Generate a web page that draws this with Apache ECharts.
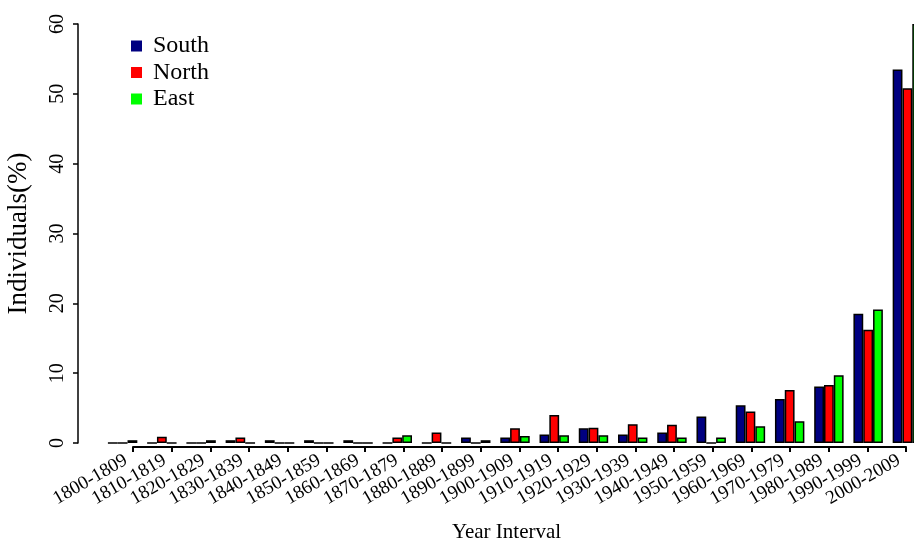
<!DOCTYPE html>
<html>
<head>
<meta charset="utf-8">
<script src="https://cdn.jsdelivr.net/npm/echarts@6/dist/echarts.min.js"></script>
<style>html,body{margin:0;padding:0;background:#fff}#c{width:914px;height:542px}</style>
</head>
<body>
<div id="c"></div>
<script>
const categories = ['1800-1809','1810-1819','1820-1829','1830-1839','1840-1849','1850-1859','1860-1869','1870-1879','1880-1889','1890-1899','1900-1909','1910-1919','1920-1929','1930-1939','1940-1949','1950-1959','1960-1969','1970-1979','1980-1989','1990-1999','2000-2009'];
const south = [0, 0, 0, 0.4, 0.4, 0.4, 0.4, 0, 0, 0.8, 0.8, 1.2, 2.1, 1.2, 1.5, 3.8, 5.4, 6.3, 8.1, 18.5, 53.5];
const north = [0, 0.9, 0, 0.8, 0, 0, 0, 0.8, 1.5, 0, 2.1, 4.0, 2.2, 2.7, 2.6, 0, 4.5, 7.6, 8.3, 16.2, 50.8];
const east  = [0.4, 0, 0.4, 0, 0, 0, 0, 1.1, 0, 0.4, 1.0, 1.1, 1.1, 0.8, 0.8, 0.8, 2.4, 3.1, 9.7, 19.1, 60];
const yTicks = [0, 10, 20, 30, 40, 50, 60];

const FONT = "'Liberation Serif','Times New Roman',serif";
const chart = echarts.init(document.getElementById('c'), null, {renderer: 'canvas'});
const barStyle = c => ({color: c, borderColor: '#000', borderWidth: 1.5});
chart.setOption({
  animation: false,
  backgroundColor: '#fff',
  grid: [
    {left: 103, top: 24, width: 824, height: 419, containLabel: false, outerBoundsMode: 'none'},
    {left: 133, top: 24, width: 773, height: 423, containLabel: false, outerBoundsMode: 'none'}
  ],
  legend: {
    orient: 'vertical', left: 126, top: 29, itemWidth: 11, itemHeight: 11, itemGap: 2.5,
    icon: 'rect',
    itemStyle: {borderWidth: 0},
    textStyle: {fontFamily: FONT, fontSize: 24, color: '#000', padding: [0,0,0,6]},
    data: ['South', 'North', 'East']
  },
  xAxis: [
    {type: 'category', gridIndex: 0, data: categories, show: false},
    {type: 'value', gridIndex: 1, min: 0, max: categories.length - 1, interval: 1,
     name: 'Year Interval', nameLocation: 'middle', nameGap: 75,
     nameTextStyle: {fontFamily: FONT, fontSize: 21, color: '#000', padding: [0, 26, 0, 0]},
     axisLine: {show: true, lineStyle: {color: '#000', width: 2}},
     axisTick: {show: true, length: 5, lineStyle: {color: '#000', width: 2}},
     splitLine: {show: false},
     axisLabel: {rotate: 30, margin: 8, fontFamily: FONT, fontSize: 19, color: '#000',
       padding: [0, 8, 0, 0], showMinLabel: true, showMaxLabel: true, hideOverlap: false,
       formatter: v => categories[v] || ''}
    }
  ],
  yAxis: [
    {type: 'value', gridIndex: 0, min: yTicks[0], max: yTicks[yTicks.length-1], interval: 10, offset: 25,
     name: 'Individuals(%)', nameLocation: 'middle', nameGap: 46, nameRotate: 90,
     nameTextStyle: {fontFamily: FONT, fontSize: 27, color: '#000'},
     axisLine: {show: true, lineStyle: {color: '#000', width: 1.5}},
     axisTick: {show: true, length: 5, lineStyle: {color: '#000', width: 1.5}},
     splitLine: {show: false},
     axisLabel: {rotate: 90, margin: 10, fontFamily: FONT, fontSize: 20, color: '#000'}
    },
    {type: 'value', gridIndex: 1, show: false, min: 0, max: 1}
  ],
  series: [
    {name: 'South', type: 'bar', xAxisIndex: 0, yAxisIndex: 0, data: south, barGap: '0%', barCategoryGap: '25%', itemStyle: barStyle('#000080')},
    {name: 'North', type: 'bar', xAxisIndex: 0, yAxisIndex: 0, data: north, barGap: '0%', barCategoryGap: '25%', itemStyle: barStyle('#ff0000')},
    {name: 'East',  type: 'bar', xAxisIndex: 0, yAxisIndex: 0, data: east,  barGap: '0%', barCategoryGap: '25%', itemStyle: barStyle('#00ff00')}
  ]
});
</script>
</body>
</html>
